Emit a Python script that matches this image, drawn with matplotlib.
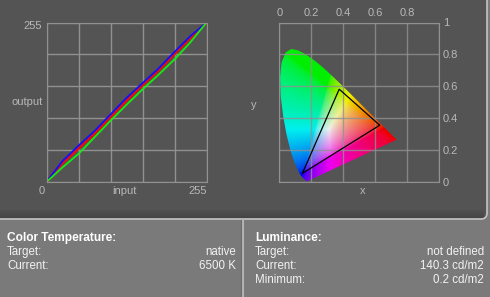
import numpy as np
import matplotlib
matplotlib.use("Agg")
import matplotlib.pyplot as plt
from matplotlib.patches import Polygon, FancyBboxPatch, Rectangle

plt.rcParams["font.family"] = ["Liberation Sans", "DejaVu Sans"]

# ─── Data ────────────────────────────────────────────────────
# tone curves (input -> output, 0..255)
curve_in    = [0, 25, 51, 76, 102, 127, 153, 178, 204, 229, 255]
curve_blue  = [0, 33, 58, 81, 108, 134, 158, 181, 208, 233, 255]
curve_red   = [0, 30, 54, 77, 104, 130, 155, 178, 205, 230, 255]
curve_green = [0, 23, 45, 71,  98, 123, 148, 171, 196, 223, 255]

# CIE 1931 spectral locus (x, y)
locus_x = [0.1741, 0.1733, 0.1714, 0.1689, 0.1644, 0.1566, 0.1440, 0.1355,
           0.1241, 0.1096, 0.0913, 0.0687, 0.0454, 0.0235, 0.0082, 0.0039,
           0.0139, 0.0389, 0.0743, 0.1142, 0.1547, 0.1929, 0.2296, 0.2658,
           0.3016, 0.3373, 0.3731, 0.4087, 0.4441, 0.4788, 0.5125, 0.5448,
           0.5752, 0.6029, 0.6270, 0.6658, 0.6915, 0.7079, 0.7190, 0.7260,
           0.7347]
locus_y = [0.0050, 0.0048, 0.0051, 0.0069, 0.0109, 0.0177, 0.0297, 0.0399,
           0.0578, 0.0868, 0.1327, 0.2007, 0.2950, 0.4127, 0.5384, 0.6548,
           0.7502, 0.8120, 0.8338, 0.8262, 0.8059, 0.7816, 0.7543, 0.7243,
           0.6923, 0.6589, 0.6245, 0.5896, 0.5547, 0.5202, 0.4866, 0.4544,
           0.4242, 0.3965, 0.3725, 0.3340, 0.3083, 0.2920, 0.2809, 0.2740,
           0.2653]

# measured gamut triangle (R, G, B)
gamut_x = [0.629, 0.375, 0.144]
gamut_y = [0.356, 0.582, 0.054]

# info panel
ct_rows  = [("Target:", "native"), ("Current:", "6500 K")]
lum_rows = [("Target:", "not defined"), ("Current:", "140.3 cd/m2"),
            ("Minimum:", "0.2 cd/m2")]

# ─── Figure ──────────────────────────────────────────────────
W, H = 490, 297
fig = plt.figure(figsize=(W / 100, H / 100), dpi=100)
fig.patch.set_facecolor("#7a7a7a")

bg = fig.add_axes([0, 0, 1, 1])
bg.set_xlim(0, W); bg.set_ylim(H, 0); bg.axis("off")
bg.add_patch(FancyBboxPatch((-10, -20), 497, 239, boxstyle="round,pad=0,rounding_size=6",
                            facecolor="#545454", edgecolor="#c4c4c4", linewidth=1.2))
# darker strip just above the panel edge
for k, a in enumerate([0.05, 0.09, 0.13, 0.16]):
    bg.add_patch(Rectangle((0, 210 + 2 * k), 484, 2, facecolor="black", alpha=a,
                           edgecolor="none"))
bg.plot([242.5, 242.5], [220, H], color="#b4b4b4", lw=1.5)
bg.plot([240.8, 240.8], [220, H], color="#6c6c6c", lw=0.8)

hdr = dict(fontsize=8.6, fontweight="bold", color="white", va="center")
row = dict(fontsize=8.3, color="#f2f2f2", va="center")
bg.text(7, 238, "Color Temperature:", **hdr)
bg.text(255, 238, "Luminance:", **hdr)
for i, (k, v) in enumerate(ct_rows):
    bg.text(7, 252 + 14 * i, k, **row)
    bg.text(236, 252 + 14 * i, v, ha="right", **row)
for i, (k, v) in enumerate(lum_rows):
    bg.text(255, 252 + 14 * i, k, **row)
    bg.text(484, 252 + 14 * i, v, ha="right", **row)

GRID = "#919191"
TXT = "#b8b8b8"
ax_h = 159.5 / H
ax_b = (H - 182) / H

# ─── Tone curves ─────────────────────────────────────────────
ax = fig.add_axes([46.5 / W, ax_b, 160 / W, ax_h])
ax.set_facecolor("none")
ax.set_xlim(0, 255); ax.set_ylim(0, 255)
ax.set_xticks(np.arange(0, 256, 51)); ax.set_yticks(np.arange(0, 256, 51))
ax.tick_params(length=0, labelbottom=False, labelleft=False)
ax.grid(True, color=GRID, lw=1)
for s in ax.spines.values():
    s.set_color(GRID)
ax.plot(curve_in, curve_red, color="#e01010", lw=2.2)
ax.plot(curve_in, curve_blue, color="#1010ff", lw=1.3)
ax.plot(curve_in, curve_green, color="#10ee10", lw=1.3)
lab = dict(fontsize=8, color=TXT, transform=ax.transAxes, va="center")
ax.text(-0.03, 0.98, "255", ha="right", **lab)
ax.text(-0.12, 0.50, "output", ha="center", **lab)
ax.text(-0.03, -0.055, "0", ha="center", **lab)
ax.text(0.49, -0.055, "input", ha="center", **lab)
ax.text(1.0, -0.055, "255", ha="right", **lab)

# ─── Chromaticity diagram ────────────────────────────────────
cx = fig.add_axes([279.3 / W, ax_b, 159.7 / W, ax_h])
cx.set_facecolor("none")
cx.set_xlim(0, 1); cx.set_ylim(0, 1)

n = 300
gx, gy = np.meshgrid(np.linspace(0, 1, n), np.linspace(0, 1, n))
gy_s = np.maximum(gy, 1e-4)
X = gx / gy_s
Z = (1 - gx - gy) / gy_s
M = np.array([[3.2406, -1.5372, -0.4986],
              [-0.9689, 1.8758, 0.0415],
              [0.0557, -0.2040, 1.0570]])
rgb = np.stack([X, np.ones_like(X), Z], axis=-1) @ M.T
rgb = np.clip(rgb, 0, None)
rgb = rgb / np.maximum(rgb.max(axis=-1, keepdims=True), 1e-6)
rgb = np.where(rgb <= 0.0031308, 12.92 * rgb, 1.055 * rgb ** (1 / 2.4) - 0.055)
rgb = np.clip(rgb, 0, 1) * 0.94

im = cx.imshow(rgb, extent=[0, 1, 0, 1], origin="lower", interpolation="bilinear",
               zorder=1)
horse = Polygon(np.column_stack([locus_x, locus_y]), closed=True,
                facecolor="none", edgecolor="none", transform=cx.transData)
cx.add_patch(horse)
im.set_clip_path(horse)
cx.add_patch(Polygon(np.column_stack([gamut_x, gamut_y]), closed=True,
                     facecolor="none", edgecolor="black", lw=0.9, zorder=3))

cx.set_xticks(np.arange(0, 1.01, 0.2)); cx.set_yticks(np.arange(0, 1.01, 0.2))
cx.set_xticklabels(["0", "0.2", "0.4", "0.6", "0.8", ""])
cx.set_yticklabels(["0", "0.2", "0.4", "0.6", "0.8", "1"])
cx.xaxis.tick_top(); cx.yaxis.tick_right()
cx.tick_params(length=0, labelsize=8, labelcolor=TXT, pad=3)
cx.grid(True, color=GRID, lw=1, alpha=0.8, zorder=2)
cx.set_axisbelow(False)
for s in cx.spines.values():
    s.set_color(GRID)
cx.text(0.52, -0.055, "x", fontsize=8, color=TXT, ha="center", va="center",
        transform=cx.transAxes)
cx.text(-0.16, 0.48, "y", fontsize=8, color=TXT, ha="center", va="center",
        transform=cx.transAxes)

fig.savefig("out.png", dpi=100, facecolor=fig.get_facecolor())
